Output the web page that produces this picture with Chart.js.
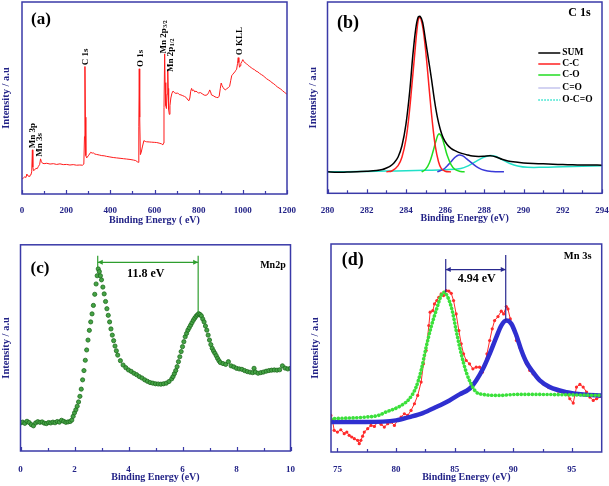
<!DOCTYPE html>
<html>
<head>
<meta charset="utf-8">
<script src="https://cdn.jsdelivr.net/npm/chart.js@4.4.1/dist/chart.umd.min.js"></script>
<style>
  body { margin: 0; background: #fff; }
  #wrap { position: relative; width: 609px; height: 486px; }
  canvas { position: absolute; }
</style>
</head>
<body>
<div id="wrap">
  <canvas id="chartA" width="304" height="240" style="left:0;top:0"></canvas>
  <canvas id="chartB" width="309" height="240" style="left:300px;top:0"></canvas>
  <canvas id="chartC" width="305" height="246" style="left:0;top:240px"></canvas>
  <canvas id="chartD" width="304" height="246" style="left:305px;top:240px"></canvas>
</div>
<script>
// (a) survey spectrum
const surveyEnergy = [0,6,13,18,22,27,32,36,40,44, 47,49,52,58,63,69,74,80,84,88,
  93,100,112,127,142,157,172,187,202,217, 232,247,262,274,280,283,285,287,289,293,
  302,311,318,323,330,338,350,361,372,383, 398,413,428,444,459,474,489,504,515,522,
  526,529,531,533,536,540,545,552,558,564, 576,587,599,610,621,632,638,641,643,646,
  648,651,654,657,660,662,664,667,670,674, 679,684,690,697,705,712,720,728,736,744,
  751,756,760,764,768,772,777,782,788,794, 800,808,816,825,833,840,846,850,854,858,
  866,874,881,888,893,898,902,906,911,916, 920,927,934,940,945,950,954,959,964,968,
  972,976,979,982,985,988,991,996,1000,1004, 1010,1017,1024,1031,1038,1045,1052,1060,1068,1076,
  1084,1092,1100,1108,1116,1124,1132,1140,1148,1156, 1164,1172,1180,1188,1194,1200];
const surveyCounts = [7.8,8.3,9.0,8.6,10.4,9.4,9.2,9.7,9.9,11.5, 23.0,14.0,12.2,12.6,13.4,13.2,14.3,15.4,18.3,16.8,
  16.0,15.8,16.0,15.6,15.8,15.4,15.7,15.3,15.4,15.1, 15.3,15.0,15.1,15.0,15.6,30.0,66.4,40.0,20.0,18.8,
  20.2,21.7,21.3,21.4,20.8,20.6,20.3,20.0,19.9,19.6, 19.3,19.0,18.8,18.6,18.4,18.2,18.0,17.7,17.4,16.8,
  16.5,35.0,65.2,40.0,20.5,21.8,24.5,27.8,27.4,27.2, 27.1,27.0,26.9,26.8,26.5,26.1,25.6,26.5,45.0,73.0,
  58.0,46.0,44.5,52.0,64.3,55.0,44.0,41.5,46.0,50.0, 52.5,53.6,52.8,52.4,52.6,51.8,51.6,51.2,50.8,50.2,
  49.0,48.6,50.0,53.5,55.0,53.8,54.2,53.2,53.6,53.0, 52.6,52.8,52.2,51.5,51.4,51.8,53.0,54.2,53.2,51.6,
  51.2,50.6,50.3,50.2,51.0,55.0,57.8,56.5,55.4,54.6, 54.2,54.8,55.4,56.0,59.0,61.8,62.2,63.0,63.6,64.4,
  65.0,68.0,71.0,68.5,66.0,66.8,68.0,69.0,70.0,69.0, 68.4,67.8,67.0,66.4,65.8,65.2,64.8,64.0,63.6,62.8,
  62.2,61.6,60.8,60.0,59.4,58.8,58.0,57.4,56.6,55.8, 55.2,54.6,53.8,53.0,52.6,51.8];
const surveyTicks = [0, 200, 400, 600, 800, 1000, 1200];
const surveyMinor = [100, 300, 500, 700, 900, 1100];

// (b) C 1s
const c1sEnergy = [280.0,280.5,281.0,281.5,282.0,282.5,282.8,283.0,283.2,283.4,283.6,283.8,284.0,284.2,284.35,284.5,
  284.62,284.72,284.85,285.0,285.15,285.3,285.45,285.6,285.75,285.9,286.1,286.3,286.5,286.8,287.1,287.4,
  287.7,288.0,288.3,288.6,288.9,289.2,289.6,290.0,290.5,291.0,291.5,292.0,292.5,293.0,293.5,294.0];
const c1sSum = [11.2,11.0,11.1,11.2,11.5,11.9,12.4,13.2,14.2,16.0,19.0,25.0,36.0,54.0,72.0,86.0,
  92.0,92.5,89.5,80.0,70.0,60.0,49.0,40.0,33.5,29.0,25.5,23.5,22.3,21.0,20.2,19.5,
  19.3,19.4,19.6,19.0,17.8,16.9,16.3,15.9,15.6,15.4,15.2,15.0,14.9,14.8,14.8,14.7];
const ccEnergy = [283.0,283.3,283.6,283.8,284.0,284.15,284.3,284.45,284.57,284.67,284.77,284.9,285.05,285.2,285.35,285.5,285.65,285.8,286.0,286.3];
const ccFit = [11.2,11.8,14.5,19.0,28.0,40.0,56.0,73.0,86.0,92.0,91.0,84.0,70.0,53.0,37.0,24.5,17.0,13.0,11.5,11.2];
const coEnergy = [284.8,285.0,285.2,285.4,285.55,285.67,285.8,285.95,286.1,286.3,286.5,286.8,287.0];
const coFit = [11.2,12.5,16.0,22.5,28.0,31.0,30.0,25.5,20.0,15.0,12.5,11.4,11.2];
const cdoEnergy = [285.6,285.9,286.1,286.3,286.5,286.7,286.9,287.1,287.4,287.7,288.0,288.4,289.0];
const cdoFit = [11.2,12.5,14.3,16.5,18.8,20.0,19.6,18.0,15.5,13.3,12.0,11.4,11.2];
const occEnergy = [280.0,281.0,282.0,283.0,284.0,285.0,286.0,286.8,287.2,287.6,288.0,288.3,288.6,288.9,289.3,289.7,290.2,291.0,292.0,293.0,294.0];
const occFit = [11.2,11.3,11.4,11.6,11.8,12.0,12.3,13.0,14.5,16.8,19.0,19.8,19.2,17.6,15.6,14.3,13.6,13.6,13.9,14.1,14.4];
const c1sLegend = ['SUM', 'C-C', 'C-O', 'C=O', 'O-C=O'];
const c1sTicks = [280, 282, 284, 286, 288, 290, 292, 294];
const c1sMinor = [281, 283, 285, 287, 289, 291, 293];

// (c) Mn 2p
const mn2pEnergy = [0.00,0.08,0.16,0.24,0.32,0.40,0.48,0.56,0.64,0.72, 0.80,0.88,0.96,1.04,1.12,1.20,1.28,1.36,1.44,1.52,
  1.60,1.68,1.76,1.84,1.90,1.95,2.00,2.05,2.10,2.15, 2.20,2.25,2.30,2.35,2.40,2.45,2.50,2.55,2.60,2.65,
  2.70,2.75,2.80,2.84,2.88,2.92,2.96,3.00,3.05,3.10, 3.15,3.20,3.25,3.30,3.35,3.40,3.45,3.50,3.55,3.60,
  3.70,3.80,3.90,4.00,4.10,4.20,4.30,4.40,4.50,4.60, 4.70,4.80,4.90,5.00,5.10,5.20,5.30,5.40,5.50,5.60,
  5.65,5.70,5.75,5.80,5.85,5.90,5.95,6.00,6.05,6.10, 6.15,6.20,6.25,6.30,6.35,6.40,6.45,6.50,6.55,6.60,
  6.65,6.70,6.75,6.80,6.85,6.90,6.95,7.00,7.05,7.10, 7.15,7.20,7.25,7.30,7.35,7.40,7.50,7.60,7.70,7.80,
  7.90,8.00,8.10,8.20,8.30,8.40,8.50,8.60,8.65,8.70, 8.80,8.90,9.00,9.10,9.20,9.30,9.40,9.50,9.60,9.70,
  9.80,9.90,10.00];
const mn2pCounts = [13.6,14.0,13.4,14.4,13.8,12.8,12.2,13.6,14.2,13.9, 14.1,13.5,13.3,13.8,13.6,14.0,13.7,14.3,14.0,14.9,
  14.4,13.9,14.1,14.3,15.0,16.8,18.5,20.0,21.7,23.8, 26.5,30.0,34.5,39.0,44.0,49.0,53.8,58.5,62.6,66.5,
  70.6,76.0,81.0,85.0,88.3,87.0,85.0,83.0,79.5,76.2, 72.5,69.0,65.8,62.6,59.2,56.2,53.5,50.9,48.6,46.5,
  43.8,41.7,40.4,39.3,38.6,37.7,37.0,36.1,35.4,34.5, 33.8,33.2,32.9,32.6,32.5,32.4,32.6,32.9,33.7,35.0,
  36.1,37.5,39.0,40.9,43.3,45.7,48.2,50.6,53.0,55.4, 57.0,58.6,59.8,61.0,62.2,63.4,64.4,65.3,66.0,66.6,
  66.2,65.5,64.0,62.6,60.6,58.6,56.2,53.8,51.6,49.8, 48.5,47.4,46.2,44.9,43.8,42.9,42.4,42.0,43.3,41.3,
  40.8,40.1,39.8,39.6,39.0,38.5,38.2,38.0,40.1,38.3, 37.7,38.0,38.3,38.7,39.0,39.2,39.3,39.2,39.4,41.3,
  40.2,39.8,40.1];
const mn2pMarkE = [2.86, 6.58];
const mn2pMarkTop = [94.7, 94.7];
const mn2pMarkFoot = [89.1, 67.4];
const mn2pTicks = [0, 2, 4, 6, 8, 10];
const mn2pMinor = [1, 3, 5, 7, 9];

// (d) Mn 3s
const mn3sEnergy = [74.44,74.58,74.72,75.00,75.29,75.58,75.80,76.00,76.22,76.44, 76.72,76.86,77.00,77.15,77.29,77.58,77.86,78.15,78.43,78.72,
  79.00,79.29,79.57,79.86,80.14,80.43,80.71,81.00,81.28,81.57, 81.85,82.14,82.34,82.57,82.80,82.91,83.14,83.28,83.48,83.65,
  83.85,84.05,84.28,84.51,84.71,84.91,85.13,85.36,85.56,85.76, 85.99,86.27,86.56,86.84,87.13,87.36,87.56,87.76,87.99,88.21,
  88.41,88.70,88.98,89.18,89.41,89.55,89.75,89.98,90.27,90.55, 90.84,91.12,91.41,91.69,92.12,92.55,92.98,93.40,93.83,94.26,
  94.55,94.83,95.12,95.40,95.69,95.97,96.26,96.54,96.83,97.11, 97.54];
const mn3sCounts = [17.6,15.2,10.4,9.6,10.7,8.8,9.6,8.0,7.2,6.4, 5.6,4.0,5.6,7.6,9.6,11.2,12.8,12.3,14.4,13.3,
  12.0,13.6,14.4,12.8,15.2,16.8,18.4,17.6,20.0,23.2, 27.2,33.6,42.4,48.8,60.8,67.2,68.0,71.2,72.8,74.4,
  76.0,75.2,77.6,77.3,76.3,72.8,66.4,58.4,52.0,47.2, 44.0,42.4,40.0,40.8,40.8,38.4,41.6,47.2,53.6,59.2,
  63.2,65.1,67.7,66.4,69.9,68.8,64.0,60.0,53.6,50.4, 46.4,42.4,39.2,37.6,35.2,32.8,31.2,30.4,29.3,28.8,
  28.0,25.6,23.5,31.2,32.5,31.2,28.8,26.4,24.8,25.6, 26.7];
const mn3sLowE = [74.44,77.43,78.50,79.14,80.29,81.14,81.71,82.14,82.57,82.99,83.42,83.85,84.08,
  84.42,84.79,85.13,85.56,85.99,86.42,86.84,87.42,88.84,90.27,91.69,94.55,97.54];
const mn3sLowFit = [16.0,16.8,17.6,19.2,21.9,25.6,31.2,39.2,50.4,60.0,68.0,75.2,76.8,
  74.4,68.0,58.4,47.2,38.4,32.5,28.8,27.7,27.2,27.7,27.7,27.5,27.2];
const mn3sHighE = [74.44,77.43,80.00,81.14,82.28,83.42,84.56,85.42,86.27,86.84,87.42,87.99,88.56,
  88.98,89.41,89.84,90.27,90.70,91.12,91.69,92.26,93.12,94.55,95.97,97.54];
const mn3sHighFit = [14.4,14.4,15.2,16.8,18.7,21.6,24.8,27.7,30.4,34.4,40.0,47.2,55.2,
  60.8,63.2,61.6,56.0,48.8,43.2,38.4,34.4,31.2,28.8,27.7,27.2];
const mn3sMarkE = [84.24, 89.36];
const mn3sMarkTop = [92.8, 94.7];
const mn3sMarkFoot = [76.8, 63.2];
const mn3sTicks = [75, 80, 85, 90, 95];
const mn3sMinor = [77.5, 82.5, 87.5, 92.5];

const NAVY = '#232387';
const AXIS = '#3a3aa8';
const SERIF = "'Liberation Serif', 'Times New Roman', serif";

const pts = (xs, ys) => xs.map((x, i) => ({ x, y: ys[i] }));
const curve = (label, xs, ys, color, width) => ({ label, data: pts(xs, ys), borderColor: color, borderWidth: width || 1.5 });
const markLines = (es, tops, foots, color) => es.map((e, i) => ({
  data: pts([e, e], [tops[i], foots[i]]), borderColor: color, borderWidth: 1.2
}));

// frame, inward ticks, arrows, labels and legend
function decor(o) {
  return {
    id: 'decor',
    afterDatasetsDraw(chart) {
      const { ctx, chartArea: a } = chart;
      const sx = chart.scales.x, sy = chart.scales.y;
      ctx.save();
      ctx.strokeStyle = AXIS;
      ctx.lineWidth = 1.5;
      ctx.strokeRect(a.left, a.top, a.right - a.left, a.bottom - a.top);
      ctx.lineWidth = 1.2;
      const tick = (v, len) => {
        const px = Math.round(sx.getPixelForValue(v)) + 0.5;
        ctx.beginPath();
        ctx.moveTo(px, a.bottom);
        ctx.lineTo(px, a.bottom - len);
        ctx.stroke();
      };
      o.major.forEach(v => tick(v, 4));
      o.minor.forEach(v => tick(v, 3));

      (o.arrows || []).forEach(ar => {
        const x1 = sx.getPixelForValue(ar.from), x2 = sx.getPixelForValue(ar.to);
        const y = sy.getPixelForValue(ar.y);
        ctx.strokeStyle = ar.color;
        ctx.fillStyle = ar.color;
        ctx.lineWidth = 1.2;
        ctx.beginPath(); ctx.moveTo(x1, y); ctx.lineTo(x2, y); ctx.stroke();
        [[x1, 1], [x2, -1]].forEach(([x, d]) => {
          ctx.beginPath();
          ctx.moveTo(x, y);
          ctx.lineTo(x + 5 * d, y - 2.5);
          ctx.lineTo(x + 5 * d, y + 2.5);
          ctx.closePath();
          ctx.fill();
        });
      });

      (o.texts || []).forEach(t => {
        ctx.save();
        ctx.translate(sx.getPixelForValue(t.x), sy.getPixelForValue(t.y));
        if (t.rot) ctx.rotate(-Math.PI / 2);
        ctx.fillStyle = t.color || '#000';
        ctx.font = `bold ${t.size}px ${SERIF}`;
        ctx.textAlign = t.align || 'center';
        ctx.textBaseline = 'middle';
        ctx.fillText(t.text, 0, 0);
        if (t.sub) {
          const w = ctx.measureText(t.text).width;
          ctx.font = `bold ${t.size * 0.65}px ${SERIF}`;
          ctx.textAlign = 'left';
          ctx.fillText(t.sub, w + 0.5, t.size * 0.2);
        }
        ctx.restore();
      });

      if (o.legend) {
        const L = o.legend;
        L.labels.forEach((lab, i) => {
          const ds = chart.data.datasets.find(d => d.label === lab);
          const y = L.rows[i];
          ctx.strokeStyle = ds.legendColor || ds.borderColor;
          ctx.lineWidth = 1.5;
          ctx.setLineDash(ds.legendDash || []);
          ctx.beginPath(); ctx.moveTo(L.x, y); ctx.lineTo(L.x + L.len, y); ctx.stroke();
          ctx.setLineDash([]);
          ctx.fillStyle = '#000';
          ctx.font = `bold 9.5px ${SERIF}`;
          ctx.textAlign = 'left';
          ctx.textBaseline = 'middle';
          ctx.fillText(lab, L.x + L.len + 2, y);
        });
      }
      ctx.restore();
    }
  };
}

function panel(id, c) {
  return new Chart(document.getElementById(id), {
    type: 'line',
    data: { datasets: c.datasets },
    options: {
      responsive: false,
      animation: false,
      devicePixelRatio: 1,
      layout: { padding: c.pad },
      elements: { point: { radius: 0 }, line: { tension: 0 } },
      plugins: { legend: { display: false }, tooltip: { enabled: false } },
      scales: {
        x: {
          type: 'linear', min: c.xmin, max: c.xmax,
          afterBuildTicks: s => { s.ticks = c.major.map(v => ({ value: v })); },
          afterFit: s => { s.height = c.xh; s.paddingLeft = 0; s.paddingRight = 0; },
          grid: { display: false },
          border: { display: false },
          ticks: {
            color: NAVY, padding: c.tickPad, maxRotation: 0, autoSkip: false,
            font: { family: SERIF, size: 9, weight: 'bold' },
            callback: v => String(v)
          },
          title: {
            display: true, text: c.xTitle, color: NAVY,
            font: { family: SERIF, size: 10, weight: 'bold' },
            padding: { top: 0, bottom: c.titlePad }
          }
        },
        y: {
          min: 0, max: 100,
          afterFit: s => { s.width = c.yw; s.paddingTop = 0; s.paddingBottom = 0; },
          grid: { display: false },
          border: { display: false },
          ticks: { display: false },
          title: {
            display: true, text: 'Intensity / a.u', color: NAVY,
            font: { family: SERIF, size: 10.5, weight: 'bold' },
            padding: { top: c.yTitlePad, bottom: 0 }
          }
        }
      }
    },
    plugins: [decor(c.decor)]
  });
}

panel('chartA', {
  pad: { left: 0, top: 2, right: 17, bottom: 0 }, yw: 22, xh: 46,
  tickPad: 3.6, titlePad: 14, yTitlePad: 0,
  xmin: 0, xmax: 1200, major: surveyTicks, xTitle: 'Binding Energy ( eV)',
  datasets: [curve('survey', surveyEnergy, surveyCounts, '#ff1a1a', 1)],
  decor: {
    major: surveyTicks, minor: surveyMinor,
    texts: [
      { x: 86, y: 91, text: '(a)', size: 17 },
      { x: 47, y: 23.8, text: 'Mn 3p', size: 9, rot: true, align: 'left' },
      { x: 81, y: 19.4, text: 'Mn 3s', size: 9, rot: true, align: 'left' },
      { x: 288, y: 67.1, text: 'C 1s', size: 9, rot: true, align: 'left' },
      { x: 537, y: 66.2, text: 'O 1s', size: 9, rot: true, align: 'left' },
      { x: 640, y: 73.2, text: 'Mn 2p', sub: '3/2', size: 9, rot: true, align: 'left' },
      { x: 673, y: 63.6, text: 'Mn 2p', sub: '1/2', size: 9, rot: true, align: 'left' },
      { x: 984, y: 72.3, text: 'O KLL', size: 9, rot: true, align: 'left' }
    ]
  }
});

panel('chartB', {
  pad: { left: 0, top: 2, right: 7, bottom: 0 }, yw: 27.5, xh: 46.7,
  tickPad: 4, titlePad: 15.7, yTitlePad: 7,
  xmin: 280, xmax: 294, major: c1sTicks, xTitle: 'Binding Energy (eV)',
  datasets: [
    Object.assign(curve('SUM', c1sEnergy, c1sSum, '#000000'), { tension: 0.3 }),
    Object.assign(curve('C-C', ccEnergy, ccFit, '#ff2020'), { tension: 0.4 }),
    Object.assign(curve('C-O', coEnergy, coFit, '#22dd22'), { tension: 0.4 }),
    Object.assign(curve('C=O', cdoEnergy, cdoFit, '#3a3ad8'), { tension: 0.4, legendColor: '#c4c4ee' }),
    Object.assign(curve('O-C=O', occEnergy, occFit, '#20e0c8'), { tension: 0.4, legendDash: [1.5, 1.5] })
  ],
  decor: {
    major: c1sTicks, minor: c1sMinor,
    texts: [
      { x: 281.04, y: 88.7, text: '(b)', size: 18 },
      { x: 292.85, y: 94.3, text: 'C 1s', size: 12 }
    ],
    legend: { labels: c1sLegend, x: 238.3, len: 22, rows: [53, 64, 75, 88, 100] }
  }
});

panel('chartC', {
  pad: { left: 0, top: 4, right: 14.5, bottom: 0 }, yw: 20.5, xh: 35,
  tickPad: 5.3, titlePad: 3, yTitlePad: 0,
  xmin: 0, xmax: 10, major: mn2pTicks, xTitle: 'Binding Energy (eV)',
  datasets: [
    ...markLines(mn2pMarkE, mn2pMarkTop, mn2pMarkFoot, '#2e9e2e'),
    {
      label: 'Mn2p', data: pts(mn2pEnergy, mn2pCounts), showLine: false,
      pointRadius: 2.1, pointBackgroundColor: '#45a345', pointBorderColor: '#1d6b1d', pointBorderWidth: 0.8
    }
  ],
  decor: {
    major: mn2pTicks, minor: mn2pMinor,
    arrows: [{ from: mn2pMarkE[0], to: mn2pMarkE[1], y: 91.5, color: '#2e9e2e' }],
    texts: [
      { x: 0.72, y: 88.4, text: '(c)', size: 17 },
      { x: 9.35, y: 89.9, text: 'Mn2p', size: 10 },
      { x: 4.64, y: 85.9, text: '11.8 eV', size: 12 }
    ]
  }
});

panel('chartD', {
  pad: { left: 0, top: 3.3, right: 7.3, bottom: 0 }, yw: 26, xh: 34,
  tickPad: 3.9, titlePad: 2.7, yTitlePad: 3.7,
  xmin: 74.45, xmax: 97.55, major: mn3sTicks, xTitle: 'Binding Energy (eV)',
  datasets: [
    ...markLines(mn3sMarkE, mn3sMarkTop, mn3sMarkFoot, '#2a2a90'),
    Object.assign(curve('low', mn3sLowE, mn3sLowFit, '#3be03b', 3.6), {
      cubicInterpolationMode: 'monotone', borderDash: [0.1, 3.6], borderCapStyle: 'round'
    }),
    Object.assign(curve('high', mn3sHighE, mn3sHighFit, '#2f2fd0', 4.5), { cubicInterpolationMode: 'monotone' }),
    Object.assign(curve('raw', mn3sEnergy, mn3sCounts, '#ff2a2a', 1), {
      pointRadius: 1.6, pointBackgroundColor: '#ff2a2a', pointBorderWidth: 0
    })
  ],
  decor: {
    major: mn3sTicks, minor: mn3sMinor,
    arrows: [{ from: mn3sMarkE[0], to: mn3sMarkE[1], y: 87.7, color: '#2a2a90' }],
    texts: [
      { x: 76.31, y: 92, text: '(d)', size: 18 },
      { x: 95.5, y: 94.1, text: 'Mn 3s', size: 10.5 },
      { x: 86.88, y: 83.2, text: '4.94 eV', size: 12 }
    ]
  }
});
</script>
</body>
</html>
